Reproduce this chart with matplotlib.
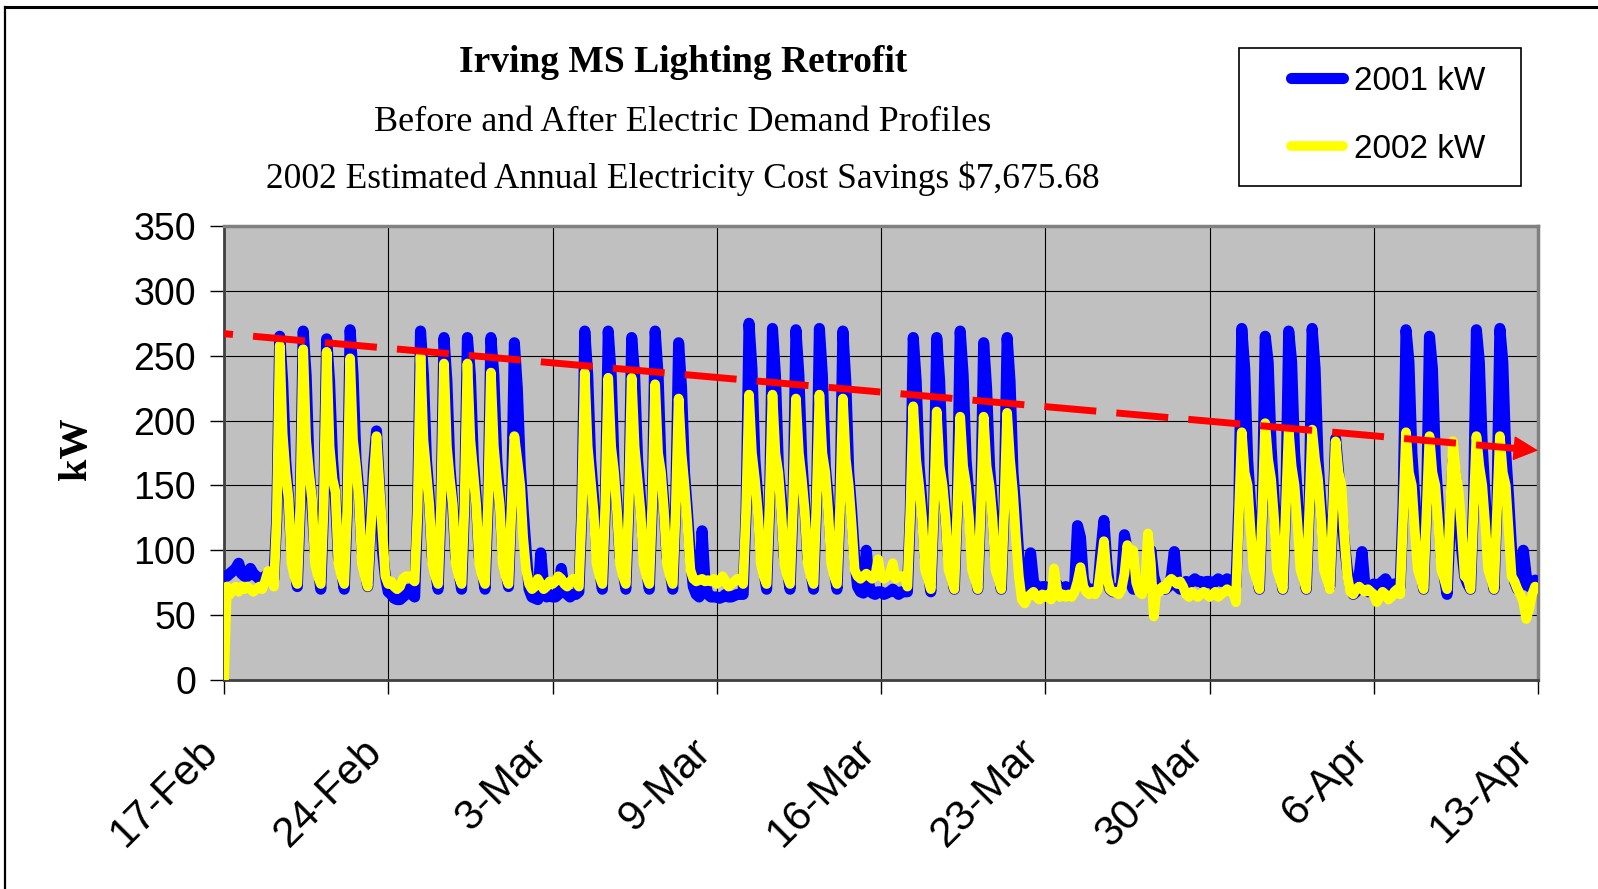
import numpy as np
import matplotlib
matplotlib.use('Agg')
import matplotlib.pyplot as plt
from matplotlib.patches import Rectangle
from matplotlib.lines import Line2D
from matplotlib.transforms import ScaledTranslation

# demand readings, one row per day, samples at 0,3,...,21 h
SAMPLES_PER_DAY = 8
kw_2001 = [
    [80, 80, 82, 84, 86, 90, 82, 80],
    [80, 86, 82, 80, 78, 78, 80, 82],
    [80, 78, 125, 265, 230, 170, 140, 100],
    [88, 72, 135, 269, 235, 165, 135, 100],
    [88, 70, 135, 263, 230, 170, 140, 95],
    [85, 70, 130, 270, 235, 170, 145, 100],
    [85, 72, 115, 165, 192, 150, 100, 80],
    [68, 66, 63, 62, 62, 64, 66, 70],
    [66, 64, 130, 269, 235, 170, 140, 95],
    [85, 70, 135, 264, 230, 165, 135, 95],
    [85, 70, 135, 264, 235, 170, 140, 95],
    [85, 70, 135, 264, 235, 170, 140, 100],
    [85, 72, 135, 260, 225, 165, 131, 100],
    [70, 64, 63, 62, 98, 72, 64, 66],
    [64, 64, 66, 86, 70, 66, 64, 66],
    [66, 68, 130, 269, 235, 170, 140, 100],
    [85, 70, 135, 269, 235, 165, 135, 95],
    [85, 70, 135, 264, 235, 170, 140, 100],
    [85, 70, 135, 269, 235, 165, 135, 95],
    [85, 70, 135, 260, 225, 160, 130, 95],
    [72, 66, 64, 115, 75, 66, 64, 64],
    [64, 63, 64, 66, 64, 64, 65, 66],
    [66, 66, 130, 275, 240, 170, 140, 100],
    [85, 70, 135, 271, 235, 165, 140, 95],
    [85, 70, 135, 270, 235, 170, 135, 95],
    [85, 70, 135, 271, 235, 165, 140, 100],
    [85, 70, 135, 269, 230, 160, 130, 95],
    [72, 68, 67, 100, 72, 67, 66, 68],
    [68, 66, 67, 68, 70, 68, 66, 68],
    [68, 68, 130, 264, 230, 165, 135, 95],
    [85, 68, 135, 264, 230, 160, 130, 95],
    [85, 70, 135, 269, 235, 170, 140, 100],
    [85, 70, 135, 260, 225, 165, 135, 95],
    [85, 70, 135, 264, 230, 160, 130, 95],
    [74, 70, 72, 98, 76, 72, 70, 72],
    [72, 70, 68, 72, 74, 70, 70, 72],
    [70, 70, 72, 119, 110, 78, 70, 70],
    [70, 68, 72, 100, 123, 90, 70, 68],
    [70, 68, 75, 112, 100, 75, 70, 70],
    [70, 68, 70, 76, 100, 80, 72, 70],
    [70, 70, 72, 80, 99, 72, 70, 70],
    [76, 74, 76, 78, 76, 76, 74, 76],
    [76, 74, 76, 78, 76, 76, 78, 76],
    [74, 72, 135, 271, 240, 170, 135, 95],
    [85, 70, 135, 265, 245, 180, 140, 100],
    [85, 70, 135, 269, 245, 175, 140, 100],
    [85, 70, 135, 271, 240, 170, 135, 100],
    [85, 72, 125, 186, 160, 130, 105, 85],
    [72, 66, 68, 80, 99, 72, 68, 70],
    [74, 72, 74, 76, 78, 74, 72, 74],
    [74, 72, 135, 270, 245, 175, 140, 100],
    [85, 70, 135, 265, 240, 170, 135, 95],
    [80, 66, 115, 170, 155, 130, 100, 80],
    [74, 70, 135, 270, 245, 180, 140, 100],
    [85, 70, 135, 271, 245, 175, 140, 100],
    [76, 70, 72, 100, 80, 72, 75, 77],
]
kw_2002 = [
    [0, 72, 66, 70, 72, 68, 72, 70],
    [72, 70, 68, 70, 72, 70, 76, 84],
    [80, 72, 125, 258, 190, 160, 140, 90],
    [80, 74, 135, 255, 185, 160, 140, 90],
    [80, 74, 135, 253, 180, 155, 145, 90],
    [80, 74, 130, 248, 185, 165, 140, 90],
    [80, 72, 115, 155, 188, 150, 115, 80],
    [74, 76, 72, 70, 72, 78, 80, 80],
    [78, 76, 130, 250, 185, 160, 135, 90],
    [80, 74, 135, 244, 180, 155, 135, 90],
    [80, 74, 135, 244, 185, 160, 135, 90],
    [80, 74, 135, 237, 180, 155, 135, 90],
    [80, 74, 130, 188, 170, 150, 110, 85],
    [74, 70, 72, 78, 74, 70, 72, 76],
    [74, 76, 80, 78, 74, 72, 76, 78],
    [76, 72, 130, 237, 180, 155, 130, 90],
    [80, 74, 135, 233, 180, 160, 130, 90],
    [80, 74, 135, 233, 180, 155, 130, 90],
    [80, 74, 135, 228, 175, 160, 130, 90],
    [80, 74, 130, 217, 175, 150, 120, 85],
    [78, 76, 77, 78, 76, 77, 76, 78],
    [74, 76, 80, 76, 72, 74, 76, 78],
    [78, 74, 130, 220, 175, 155, 130, 90],
    [80, 74, 135, 220, 175, 160, 130, 90],
    [80, 74, 135, 217, 175, 155, 130, 90],
    [80, 74, 135, 220, 175, 160, 130, 90],
    [80, 74, 130, 217, 170, 150, 120, 85],
    [80, 78, 80, 82, 80, 78, 80, 93],
    [80, 78, 80, 82, 90, 78, 80, 80],
    [80, 72, 130, 211, 170, 150, 125, 85],
    [78, 70, 130, 207, 165, 150, 125, 85],
    [78, 70, 130, 203, 165, 150, 125, 85],
    [78, 70, 130, 203, 165, 150, 125, 85],
    [78, 70, 130, 206, 170, 145, 110, 80],
    [62, 59, 64, 66, 68, 64, 62, 66],
    [64, 66, 62, 86, 70, 64, 66, 64],
    [66, 64, 68, 76, 87, 72, 68, 66],
    [68, 66, 70, 88, 107, 80, 70, 68],
    [68, 66, 70, 82, 104, 90, 100, 75],
    [68, 66, 72, 113, 90, 49, 70, 68],
    [72, 70, 76, 78, 76, 74, 76, 72],
    [66, 64, 68, 66, 64, 66, 68, 66],
    [64, 66, 68, 64, 66, 68, 70, 68],
    [68, 60, 125, 191, 160, 150, 115, 85],
    [78, 70, 130, 198, 170, 155, 125, 85],
    [78, 70, 130, 193, 165, 150, 120, 85],
    [78, 70, 130, 193, 170, 155, 125, 85],
    [78, 70, 125, 184, 160, 150, 110, 80],
    [68, 66, 70, 72, 70, 68, 70, 68],
    [66, 60, 64, 68, 66, 62, 64, 68],
    [70, 66, 125, 191, 160, 150, 115, 85],
    [78, 70, 130, 188, 160, 150, 120, 85],
    [78, 70, 130, 184, 160, 145, 115, 80],
    [78, 70, 130, 188, 165, 150, 120, 85],
    [78, 70, 130, 188, 160, 150, 115, 80],
    [76, 70, 66, 60, 47, 55, 66, 72],
]
tick_days = [0, 7, 14, 21, 28, 35, 42, 49, 56]
tick_labels = ['17-Feb', '24-Feb', '3-Mar', '9-Mar', '16-Mar',
               '23-Mar', '30-Mar', '6-Apr', '13-Apr']
y_ticks = [0, 50, 100, 150, 200, 250, 300, 350]
trend_days = [0, 56]
trend_kw = [267, 177]

TITLE = 'Irving MS Lighting Retrofit'
SUB1 = 'Before and After Electric Demand Profiles'
SUB2 = '2002 Estimated Annual Electricity Cost Savings $7,675.68'

W, H = 1598, 889
SERIF = ['Liberation Serif', 'DejaVu Serif']
plt.rcParams['font.family'] = ['Liberation Sans', 'DejaVu Sans']

v01 = np.array(kw_2001, dtype=float).ravel()
v02 = np.array(kw_2002, dtype=float).ravel()
t = np.arange(v01.size) / SAMPLES_PER_DAY

fig = plt.figure(figsize=(W / 100, H / 100), dpi=100)
ax = fig.add_axes([224 / W, 1 - 680 / H, (1538 - 224) / W, (680 - 226) / H])
ax.set_facecolor('#C0C0C0')
ax.set_axisbelow(True)
ax.grid(True, color='black', lw=0.8)

l1, = ax.plot(t, v01, color='#0000FF', lw=8, solid_joinstyle='round',
              solid_capstyle='round', label='2001 kW', zorder=3)
l2, = ax.plot(t, v02, color='#FFFF00', lw=7, solid_joinstyle='round',
              solid_capstyle='round', label='2002 kW', zorder=4)
ax.plot(trend_days, trend_kw, color='#FF0000', lw=5,
        linestyle=(6.2, (7.5, 2.9)), zorder=5)
tail_x = trend_days[1] - 0.5
ax.annotate('', xy=(trend_days[1], trend_kw[1]),
            xytext=(tail_x, np.interp(tail_x, trend_days, trend_kw)),
            arrowprops=dict(arrowstyle='-|>,head_length=0.8,head_width=0.4',
                            color='#FF0000', lw=1, mutation_scale=20,
                            shrinkA=0, shrinkB=0),
            zorder=6)

ax.set_xlim(0, 56)
ax.set_ylim(0, 350)
ax.set_yticks(y_ticks)
ax.set_yticklabels([str(v) for v in y_ticks], fontsize=27)
ax.set_xticks(tick_days)
ax.set_xticklabels(tick_labels, rotation=45, ha='right', va='top',
                   rotation_mode='anchor', fontsize=30.5)
ax.tick_params(direction='out', length=10, width=1, color='black')
ax.tick_params(axis='y', pad=10)
ax.tick_params(axis='x', pad=27)
shift = ScaledTranslation(-18.7 / 72, 0, fig.dpi_scale_trans)
for lbl in ax.get_xticklabels():
    lbl.set_transform(lbl.get_transform() + shift)

for side in ['top', 'right']:
    ax.spines[side].set_color('#808080')
    ax.spines[side].set_linewidth(2.5)
for side in ['left', 'bottom']:
    ax.spines[side].set_color('#404040')
    ax.spines[side].set_linewidth(2)

fig.text(77 / W, 1 - 449 / H, 'kW', rotation=90, ha='center', va='center',
         fontsize=29, fontweight='bold', fontfamily=SERIF)
fig.text(683 / W, 1 - 72 / H, TITLE, ha='center', va='baseline',
         fontsize=27, fontweight='bold', fontfamily=SERIF)
fig.text(683 / W, 1 - 131 / H, SUB1, ha='center', va='baseline',
         fontsize=26, fontfamily=SERIF)
fig.text(683 / W, 1 - 188 / H, SUB2, ha='center', va='baseline',
         fontsize=25.5, fontfamily=SERIF)

# legend box drawn separately so the padding matches
fig.add_artist(Rectangle((1239 / W, 1 - 186 / H), (1521 - 1239) / W, 138 / H,
                         transform=fig.transFigure, fill=False,
                         edgecolor='black', lw=1.2))
ax.legend(handles=[l1, l2], loc='center', bbox_to_anchor=(0.8685, 0.8702),
          bbox_transform=fig.transFigure, frameon=False, borderpad=0,
          handlelength=1.55, handletextpad=0.33, labelspacing=1.1,
          prop={'size': 24})

# outer chart frame (top and left edges visible)
fig.add_artist(Line2D([5 / W, 1.0], [1 - 7 / H, 1 - 7 / H],
                      transform=fig.transFigure, color='black', lw=2.2))
fig.add_artist(Line2D([5 / W, 5 / W], [0.0, 1 - 7 / H],
                      transform=fig.transFigure, color='black', lw=1.6))

fig.savefig('out.png', dpi=100)
plt.close(fig)
